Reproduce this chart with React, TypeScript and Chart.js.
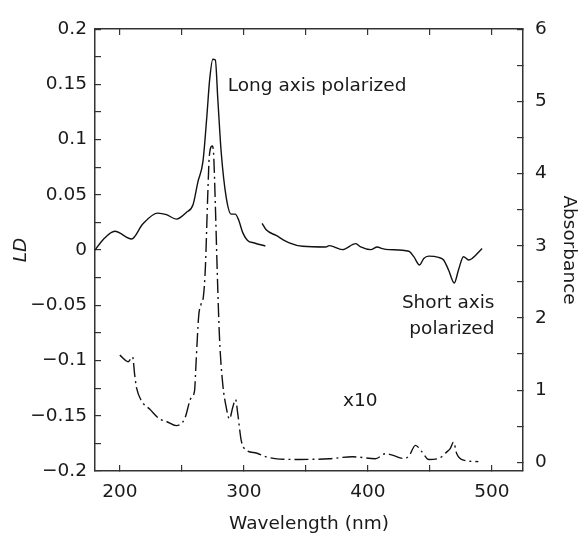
import React, { useEffect, useRef } from 'react';
import { Chart, registerables } from 'chart.js';

Chart.register(...registerables);

// ---- Data ----
const ldWave1 = [180, 187, 196, 209.5, 218.5, 230.6, 237.6, 245.6, 253.6, 259, 263, 267, 270.2, 272.4, 275, 277, 279, 281.7, 285.8, 289.8, 293, 296, 299, 303, 308.5, 317.3];
const ldValue1 = [0, 0.01, 0.017, 0.01, 0.0236, 0.0334, 0.032, 0.028, 0.034, 0.041, 0.062, 0.08, 0.1216, 0.154, 0.1727, 0.172, 0.1365, 0.089, 0.0474, 0.0325, 0.0325, 0.0266, 0.016, 0.0087, 0.0064, 0.0037];

const ldWave2 = [314.7, 318, 326, 336.6, 347.3, 366, 368.8, 379.5, 390.2, 394.2, 402.2, 407.5, 411.6, 417, 433, 437, 441.6, 445, 449, 457, 461, 465, 469.6, 473, 477, 481.2, 484, 492];
const ldValue2 = [0.0242, 0.0183, 0.0132, 0.0065, 0.0034, 0.0028, 0.004, 0.0004, 0.0058, 0.0028, 0.0004, 0.0028, 0.0013, 0.0004, -0.0011, -0.006, -0.0135, -0.0076, -0.0055, -0.0067, -0.009, -0.018, -0.0298, -0.018, -0.006, -0.009, -0.0076, 0.0013];

const absWave = [200, 206.7, 210.3, 212, 213.5, 217.5, 224.2, 232.2, 237.5, 245.5, 252.2, 257.5, 260.2, 261.5, 263.6, 265.5, 267.4, 269, 270.8, 272.2, 274.5, 275.5, 277, 278.5, 280.4, 283, 285.8, 288.4, 291, 293.3, 295.1, 297.9, 301.9, 310, 318, 328.6, 344.6, 368.8, 387.5, 406, 414.3, 419.6, 429, 433, 438.3, 443.6, 449, 457, 463.6, 466.3, 469, 471.6, 477, 489];
const absValue = [1.485, 1.394, 1.462, 1.21, 1.03, 0.85, 0.735, 0.6, 0.567, 0.508, 0.6, 0.894, 0.985, 1.394, 2.03, 2.19, 2.3, 2.71, 3.66, 4.25, 4.38, 4.3, 3.57, 2.66, 1.71, 1.08, 0.76, 0.6, 0.76, 0.87, 0.67, 0.3, 0.17, 0.13, 0.076, 0.045, 0.04, 0.05, 0.077, 0.05, 0.12, 0.1, 0.054, 0.085, 0.235, 0.145, 0.04, 0.054, 0.145, 0.19, 0.28, 0.12, 0.03, 0.01];

// ---- Ticks ----
const xTickValues = [200, 250, 300, 350, 400, 450, 500];
const xTickLabels = ['200', '', '300', '', '400', '', '500'];
const ldTickValues = [-0.2, -0.175, -0.15, -0.125, -0.1, -0.075, -0.05, -0.025, 0, 0.025, 0.05, 0.075, 0.1, 0.125, 0.15, 0.175, 0.2];
const ldTickLabels = ['\u22120.2', '', '\u22120.15', '', '\u22120.1', '', '\u22120.05', '', '0', '', '0.05', '', '0.1', '', '0.15', '', '0.2'];
const absTickValues = [0, 0.5, 1, 1.5, 2, 2.5, 3, 3.5, 4, 4.5, 5, 5.5, 6];
const absTickLabels = ['0', '', '1', '', '2', '', '3', '', '4', '', '5', '', '6'];

const annotations = [
  { text: 'Long axis polarized', x: 287, y: 0.148, align: 'left' },
  { text: 'Short axis', x: 502, y: -0.0477, align: 'right' },
  { text: 'polarized', x: 502, y: -0.0717, align: 'right' },
  { text: 'x10', x: 380, y: -0.1367, align: 'left' },
];

const FAMILY = '"DejaVu Sans", sans-serif';
const SIZE = 18.5;
const INK = '#1a1a1a';
const AXIS = '#333';

function labelFor(values: number[], labels: string[], v: number) {
  const i = values.findIndex((t) => Math.abs(t - v) < 1e-9);
  return i >= 0 ? labels[i] : '';
}

const textPlugin = {
  id: 'textLabels',
  afterDatasetsDraw(chart: any) {
    const { ctx, scales } = chart;
    ctx.save();
    ctx.font = `${SIZE}px ${FAMILY}`;
    ctx.fillStyle = INK;
    ctx.textBaseline = 'middle';
    annotations.forEach((a) => {
      ctx.textAlign = a.align;
      ctx.fillText(a.text, scales.x.getPixelForValue(a.x), scales.y.getPixelForValue(a.y));
    });
    ctx.restore();
  },
};

export default function App() {
  const ref = useRef<HTMLCanvasElement>(null);
  useEffect(() => {
    if (!ref.current) return;
    const font = { family: FAMILY, size: SIZE };
    const grid = { drawOnChartArea: false, tickLength: -6, color: AXIS, lineWidth: 1.2 };
    const border = { display: true, color: AXIS, width: 1.5 };
    const chart = new Chart(ref.current, {
      type: 'line',
      data: {
        datasets: [
          {
            data: ldWave1.map((x, i) => ({ x, y: ldValue1[i] })),
            xAxisID: 'x', yAxisID: 'y',
            borderColor: '#111', borderWidth: 1.4, pointRadius: 0,
            cubicInterpolationMode: 'monotone',
          },
          {
            data: ldWave2.map((x, i) => ({ x, y: ldValue2[i] })),
            xAxisID: 'x', yAxisID: 'y',
            borderColor: '#111', borderWidth: 1.4, pointRadius: 0,
            cubicInterpolationMode: 'monotone',
          },
          {
            data: absWave.map((x, i) => ({ x, y: absValue[i] })),
            xAxisID: 'x', yAxisID: 'y2',
            borderColor: '#111', borderWidth: 1.4, pointRadius: 0,
            borderDash: [14, 4, 2, 4],
            cubicInterpolationMode: 'monotone',
          },
        ],
      },
      options: {
        animation: false,
        responsive: true,
        maintainAspectRatio: false,
        layout: { padding: 0 },
        plugins: { legend: { display: false }, tooltip: { enabled: false } },
        scales: {
          x: {
            type: 'linear', position: 'bottom', min: 180, max: 525,
            afterBuildTicks: (s: any) => { s.ticks = xTickValues.map((value) => ({ value })); },
            afterFit: (s: any) => { s.height = 66; },
            ticks: {
              callback: (v: any) => labelFor(xTickValues, xTickLabels, Number(v)),
              font, color: INK, padding: 16, maxRotation: 0, autoSkip: false,
            },
            grid, border,
            title: { display: true, text: 'Wavelength (nm)', font, color: INK, padding: { top: 0, bottom: 2 } },
          },
          x2: {
            type: 'linear', position: 'top', min: 180, max: 525,
            afterBuildTicks: (s: any) => { s.ticks = xTickValues.map((value) => ({ value })); },
            afterFit: (s: any) => { s.height = 22; },
            ticks: { display: false },
            grid, border,
          },
          y: {
            type: 'linear', position: 'left', min: -0.2, max: 0.2,
            afterBuildTicks: (s: any) => { s.ticks = ldTickValues.map((value) => ({ value })); },
            afterFit: (s: any) => { s.width = 95; },
            ticks: {
              callback: (v: any) => labelFor(ldTickValues, ldTickLabels, Number(v)),
              font, color: INK, padding: 14, autoSkip: false,
            },
            grid, border,
            title: { display: true, text: 'LD', font: { family: FAMILY, size: SIZE, style: 'italic' }, color: INK, padding: { top: 10, bottom: 0 } },
          },
          y2: {
            type: 'linear', position: 'right', min: -0.12, max: 6,
            afterBuildTicks: (s: any) => { s.ticks = absTickValues.map((value) => ({ value })); },
            afterFit: (s: any) => { s.width = 57; },
            ticks: {
              callback: (v: any) => labelFor(absTickValues, absTickLabels, Number(v)),
              font, color: INK, padding: 18, autoSkip: false,
            },
            grid, border,
            title: { display: true, text: 'Absorbance', font, color: INK, padding: { top: 0, bottom: 0 } },
          },
        },
      },
      plugins: [textPlugin],
    } as any);
    return () => chart.destroy();
  }, []);

  return (
    <div style={{ position: 'absolute', left: 0, top: 0, width: 580, height: 537, background: '#fff' }}>
      <canvas ref={ref} />
    </div>
  );
}
